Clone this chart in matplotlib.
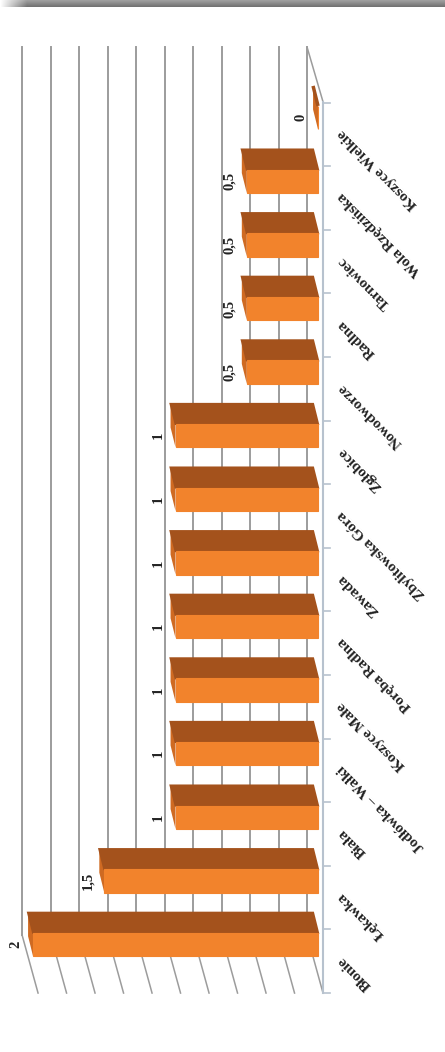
import numpy as np
import matplotlib.pyplot as plt

#############################################################################

## Data (bottom to top)
places = ['Błonie', 'Łękawka', 'Biała', 'Jodłówka – Wałki', 'Koszyce Małe',
          'Poręba Radlna', 'Zawada', 'Zbylitowska Góra', 'Zgłobice',
          'Nowodworze', 'Radlna', 'Tarnowiec', 'Wola Rzędzińska',
          'Koszyce Wielkie']
values = [2, 1.5, 1, 1, 1, 1, 1, 1, 1, 0.5, 0.5, 0.5, 0.5, 0]
value_labels = ['2', '1,5', '1', '1', '1', '1', '1', '1', '1',
                '0,5', '0,5', '0,5', '0,5', '0']
grid_values = [0, 0.2, 0.4, 0.6, 0.8, 1.0, 1.2, 1.4, 1.6, 1.8, 2.0]

#############################################################################

## Look
LIGHT = '#f2832c'
DARK = '#a4521c'
CAP = '#cf6a22'
GRID = '#9c9c9c'
AXIS = '#b7c2ce'
FONT = 'Liberation Serif'

## 3D fake: offsets in data units
back_dx = 0.077
front_dx = -0.035
wall_bottom, wall_top = 0.149, 14.11
front_bottom, front_top = -0.763, 13.25
bar_h = 0.37
depth_dx, depth_dy = 0.035, 0.315

fig = plt.figure(figsize=(4.45, 10.52), dpi=100)
ax = fig.add_axes([0, 0, 1, 1])
ax.set_xlim(2.232, -0.891)
ax.set_ylim(-1.690, 14.851)
ax.axis('off')

## back wall grid + side wall slants
for g in grid_values:
    ax.plot([g + back_dx, g + back_dx], [wall_bottom, wall_top], color=GRID, lw=1.4, zorder=1)
    ax.plot([g + back_dx, g + front_dx], [wall_bottom, front_bottom], color=GRID, lw=1.1, zorder=1)

## floor edge + front axis
ax.plot([back_dx, front_dx], [wall_top, front_top], color=GRID, lw=1.1, zorder=1)
ax.plot([front_dx, front_dx], [front_bottom, front_top], color=AXIS, lw=1.5, zorder=1)
for j in range(len(places) + 1):
    ax.plot([front_dx, front_dx - 0.05], [front_bottom + j, front_bottom + j], color=AXIS, lw=1.2, zorder=1)

## bars
for k, v in enumerate(values):
    yb = k - bar_h / 2
    yt = k + bar_h / 2
    cap = [(v, yb), (v, yt), (v + depth_dx, yt + depth_dy), (v + depth_dx, yb + depth_dy)]
    ax.fill(*zip(*cap), color=CAP, lw=0, zorder=2)
    top = [(0, yt), (v, yt), (v + depth_dx, yt + depth_dy), (depth_dx, yt + depth_dy)]
    ax.fill(*zip(*top), facecolor=DARK, edgecolor=DARK, lw=2.5 if v == 0 else 1.5, zorder=3)
    ax.barh(k, v, height=bar_h, left=0, color=LIGHT, edgecolor=LIGHT, lw=0.8, zorder=4)

    ax.annotate(value_labels[k], (v, k), xytext=(-17, 0), textcoords='offset pixels',
                rotation=90, ha='center', va='center', fontsize=10.5,
                fontweight='bold', family=FONT, color='#222222', zorder=5)
    ax.text(-0.154, k - 0.21, places[k], rotation=135, rotation_mode='anchor',
            ha='right', va='center', fontsize=11, fontweight='bold',
            family=FONT, color='#222222', zorder=5)

## grey strip on top
strip = fig.add_axes([0, 1 - 7 / 1052, 1, 7 / 1052])
xs = np.linspace(0, 1, 445)
fade = np.clip(xs / 0.06, 0, 1)
rows = np.linspace(0.62, 0.45, 7)[:, None]
img = 1 - (1 - rows) * fade[None, :]
strip.imshow(img, cmap='gray', vmin=0, vmax=1, aspect='auto')
strip.axis('off')

fig.savefig('out.png', dpi=100)
